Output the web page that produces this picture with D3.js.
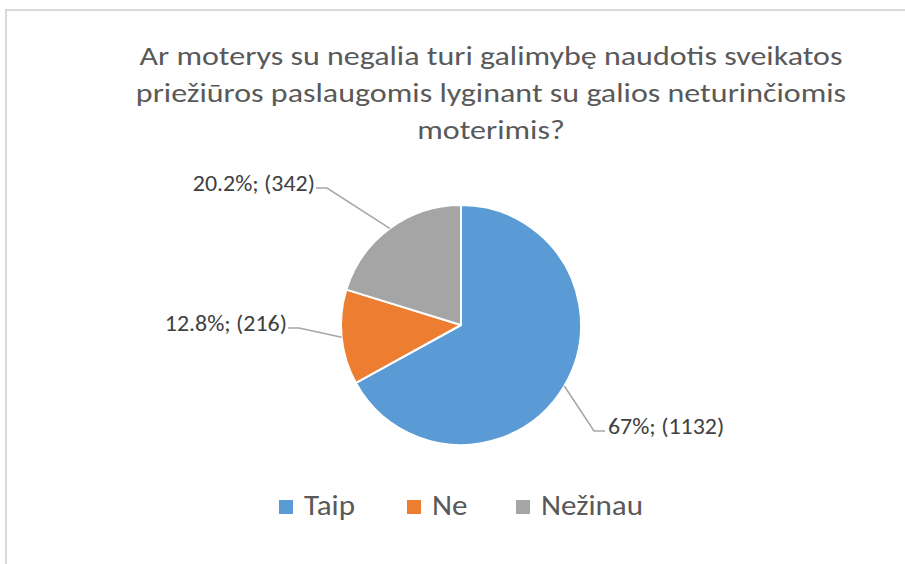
<!DOCTYPE html>
<html>
<head>
<meta charset="utf-8">
<script src="https://cdn.jsdelivr.net/npm/d3@7"></script>
<style>
  body { margin: 0; background: #fff; }
  text { font-family: Carlito, Calibri, Lato, "Open Sans", sans-serif; }
</style>
</head>
<body>
<svg class="chart"></svg>
<script>
var width = 905,
    height = 564;

// data
var categories = ["Taip", "Ne", "Nežinau"];
var counts = [1132, 216, 342];
var pctLabels = ["67%", "12.8%", "20.2%"];
var colors = ["#5B9BD5", "#ED7D31", "#A5A5A5"];
var titleLines = [
  "Ar moterys su negalia turi galimybę naudotis sveikatos",
  "priežiūros paslaugomis lyginant su galios neturinčiomis",
  "moterimis?"
];

var cx = 461, cy = 325, radius = 120;

// where each data label sits (x of the line end, y of the line), and which side
var labelPos = [
  { x: 605, y: 431, anchor: "start" },
  { x: 288, y: 328, anchor: "end" },
  { x: 316, y: 188, anchor: "end" }
];

var chart = d3.select(".chart")
    .attr("width", width)
    .attr("height", height);

// stretch text a little wider, the original font is drawn wide
function widen(sel, k) {
  sel.each(function() {
    var w = this.getComputedTextLength();
    d3.select(this)
        .attr("textLength", w * k)
        .attr("lengthAdjust", "spacingAndGlyphs");
  });
}

// chart area border (runs off the right and bottom edges)
chart.append("rect")
    .attr("x", 6)
    .attr("y", 10)
    .attr("width", 1000)
    .attr("height", 1000)
    .attr("fill", "#fff")
    .attr("stroke", "#d9d9d9")
    .attr("stroke-width", 2);

// title
var title = chart.append("g").selectAll("text")
    .data(titleLines)
  .enter().append("text")
    .attr("x", 491)
    .attr("y", function(d, i) { return 65 + i * 37; })
    .attr("text-anchor", "middle")
    .attr("fill", "#595959")
    .style("font-size", "26px")
    .text(function(d) { return d; });

var line1 = title.node().getComputedTextLength();
widen(title, 703 / line1);

var pie = d3.pie().sort(null).value(function(d) { return d; });
var arcs = pie(counts);
var arc = d3.arc().innerRadius(0).outerRadius(radius);

var g = chart.append("g")
    .attr("transform", "translate(" + cx + "," + cy + ")");

g.selectAll("path")
    .data(arcs)
  .enter().append("path")
    .attr("d", arc)
    .attr("fill", function(d, i) { return colors[i]; })
    .attr("stroke", "#fff")
    .attr("stroke-width", 2)
    .attr("stroke-linejoin", "round");

// leader lines + labels
var labels = [];
arcs.forEach(function(d, i) {
  var mid = (d.startAngle + d.endAngle) / 2;
  var ex = cx + radius * Math.sin(mid),
      ey = cy - radius * Math.cos(mid);
  var p = labelPos[i];
  var dir = p.anchor === "start" ? -1 : 1;
  var elbowX = p.x + dir * 11;

  chart.append("polyline")
      .attr("points", [[p.x, p.y], [elbowX, p.y], [ex, ey]].join(" "))
      .attr("fill", "none")
      .attr("stroke", "#a6a6a6")
      .attr("stroke-width", 1.5);

  var t = chart.append("text")
      .attr("x", p.x + (p.anchor === "start" ? 3 : -1))
      .attr("y", p.y - 5)
      .attr("dy", "0.35em")
      .attr("text-anchor", p.anchor)
      .attr("fill", "#404040")
      .style("font-size", "23px")
      .text(pctLabels[i] + "; (" + counts[i] + ")");
  widen(t, 1.04);
});

// legend
var legendX = [279, 407, 516];
var legend = chart.append("g").selectAll("g")
    .data(categories)
  .enter().append("g")
    .attr("transform", function(d, i) { return "translate(" + legendX[i] + ",500)"; });

legend.append("rect")
    .attr("width", 14)
    .attr("height", 14)
    .attr("fill", function(d, i) { return colors[i]; });

legend.append("text")
    .attr("x", 25)
    .attr("y", 15)
    .attr("fill", "#595959")
    .style("font-size", "29px")
    .text(function(d) { return d; });

widen(legend.selectAll("text"), 1.07);
</script>
</body>
</html>
